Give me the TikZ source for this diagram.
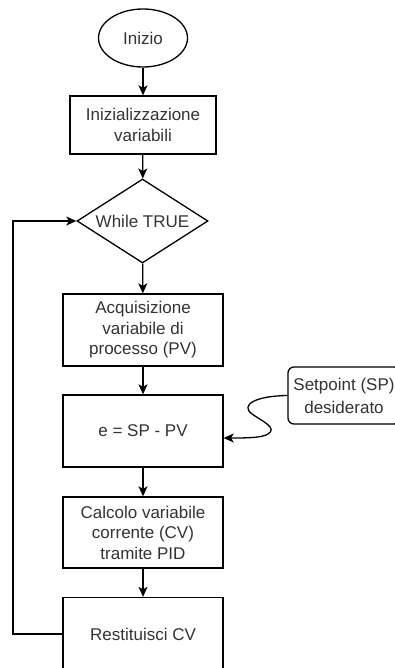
\documentclass[tikz,border=0pt]{standalone}
\usepackage{fontspec}
\setmainfont{Liberation Sans}
\usetikzlibrary{shapes.geometric,arrows.meta}
\definecolor{txt}{HTML}{333333}
\tikzset{
  base/.style={draw=black, line width=1.3pt, inner sep=0pt, text=txt, align=center,
    font=\fontsize{17}{20.5}\selectfont},
  box/.style={base, rectangle, minimum width=#1},
  startnode/.style={base, ellipse, minimum width=89pt, minimum height=58pt},
  decision/.style={base, diamond, aspect=1.56, minimum width=131pt, minimum height=84pt},
  note/.style={base, rectangle, rounded corners=6pt, minimum width=112pt, minimum height=57pt},
  arr/.style={draw=black, line width=1.3pt, -{Stealth[length=10pt,width=9pt,inset=2.5pt]}}
}
\begin{document}
\begin{tikzpicture}[x=1pt,y=-1pt]
\useasboundingbox (0,0) rectangle (395,668);
\clip (0,0) rectangle (395,668);
\fill[white] (0,0) rectangle (395,668);
\node[startnode] (start) at (143,38) {Inizio};
\node[box=146pt, minimum height=58pt] (init) at (143,125) {Inizializzazione\\variabili};
\node[decision] (while) at (142.5,221) {While TRUE};
\node[box=160pt, minimum height=72pt] (acq) at (143,330) {Acquisizione\\variabile di\\processo (PV)};
\node[box=160pt, minimum height=72pt] (err) at (143,431) {e = SP - PV};
\node[box=160pt, minimum height=71pt] (calc) at (143,532.5) {Calcolo variabile\\corrente (CV)\\tramite PID};
\node[box=160pt, minimum height=73pt] (rest) at (143,634) {Restituisci CV};
\node[note, font=\fontsize{17}{23}\selectfont] (sp) at (344,395.5) {Setpoint (SP)\\desiderato};
\coordinate (loopbot) at (13,634);
\coordinate (looptop) at (13,221);
\coordinate (errin) at ([yshift=-7pt]err.east);
\draw[arr] (start) -- (init);
\draw[arr] (init) -- (while);
\draw[arr] (while) -- (acq);
\draw[arr] (acq) -- (err);
\draw[arr] (err) -- (calc);
\draw[arr] (calc) -- (rest);
\draw[arr] (rest.west) -- (loopbot) -- (looptop) -- (while.west);
\draw[arr] (sp.west) .. controls (255,396) and (240,405) .. (252,414)
  .. controls (262,421) and (278,428) .. (268,434)
  .. controls (262,438) and (245,438) .. (errin);
\end{tikzpicture}
\end{document}
